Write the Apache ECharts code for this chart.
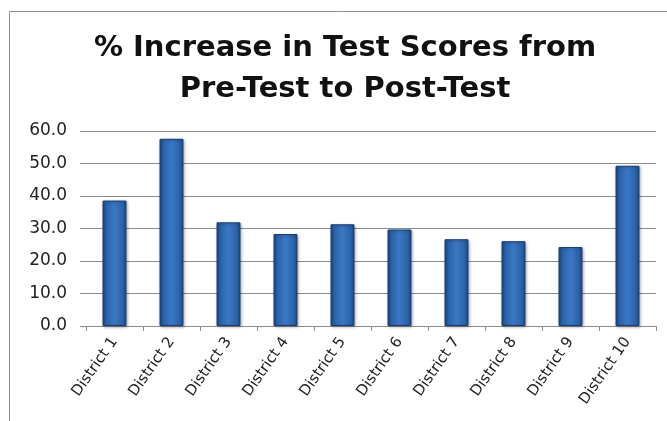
<!DOCTYPE html>
<html lang="en">
<head>
    <meta charset="UTF-8">
    <title>% Increase in Test Scores</title>
    <script src="https://cdn.jsdelivr.net/npm/echarts@6/dist/echarts.min.js"></script>
</head>
<style>
    html, body { margin: 0; padding: 0; background: #fff; }
    .box { width: 667px; height: 421px; }
</style>
<body>
    <div class="box" id="box"></div>
    <script>
        // data
        var districts = ['District 1', 'District 2', 'District 3', 'District 4', 'District 5',
                         'District 6', 'District 7', 'District 8', 'District 9', 'District 10'];
        var increase = [38.6, 57.6, 31.9, 28.3, 31.3, 29.7, 26.7, 26.1, 24.3, 49.3];
        var yTicks = [0, 10, 20, 30, 40, 50, 60];

        var myChart = echarts.init(document.getElementById('box'));

        // bar face: darker edges, lighter middle (looks like a rounded bar)
        var barFill = new echarts.graphic.LinearGradient(0, 0, 1, 0, [
            { offset: 0, color: '#1b4580' },
            { offset: 0.15, color: '#2a62a8' },
            { offset: 0.5, color: '#3a78c4' },
            { offset: 0.85, color: '#2a62a8' },
            { offset: 1, color: '#1b4580' }
        ]);

        var option = {
            animation: false,
            title: {
                text: '% Increase in Test Scores from\nPre-Test to Post-Test',
                left: 345,          // centre of the title
                textAlign: 'center',
                top: 28,
                padding: 0,
                textStyle: {
                    fontFamily: 'DejaVu Sans',
                    fontWeight: 'bold',
                    fontSize: 29,
                    lineHeight: 41,
                    color: '#111'
                }
            },
            // chart frame (top and left edge only visible)
            graphic: [{
                type: 'rect',
                shape: { x: 9.5, y: 11.5, width: 700, height: 450 },
                style: { fill: null, stroke: '#8c8c8c', lineWidth: 1 },
                silent: true
            }],
            grid: {
                left: 86,
                right: 11,
                top: 131,
                bottom: 95
            },
            xAxis: {
                type: 'category',
                data: districts,
                axisLine: { lineStyle: { color: '#8c8c8c', width: 1 } },
                axisTick: { show: true, length: 5, lineStyle: { color: '#8c8c8c' } },
                axisLabel: {
                    rotate: 55,
                    margin: 13,
                    fontFamily: 'DejaVu Sans',
                    fontSize: 15,
                    color: '#222'
                }
            },
            yAxis: {
                type: 'value',
                min: yTicks[0],
                max: yTicks[yTicks.length - 1],
                interval: 10,
                axisLine: { show: false },
                axisTick: { show: true, length: 6, lineStyle: { color: '#8c8c8c' } },
                splitLine: { lineStyle: { color: '#8c8c8c', width: 1 } },
                axisLabel: {
                    margin: 19,
                    fontFamily: 'DejaVu Sans',
                    fontSize: 17,
                    color: '#222',
                    formatter: function (v) { return v.toFixed(1); }
                }
            },
            series: [{
                type: 'bar',
                data: increase,
                barWidth: '42%',
                itemStyle: {
                    color: barFill,
                    borderColor: '#173d72',
                    borderWidth: 1,
                    shadowColor: 'rgba(0,0,0,0.3)',
                    shadowBlur: 3,
                    shadowOffsetX: 1,
                    shadowOffsetY: 1
                }
            }]
        };

        myChart.setOption(option);

        window.addEventListener('resize', function () {
            myChart.resize();
        });
    </script>
</body>
</html>
